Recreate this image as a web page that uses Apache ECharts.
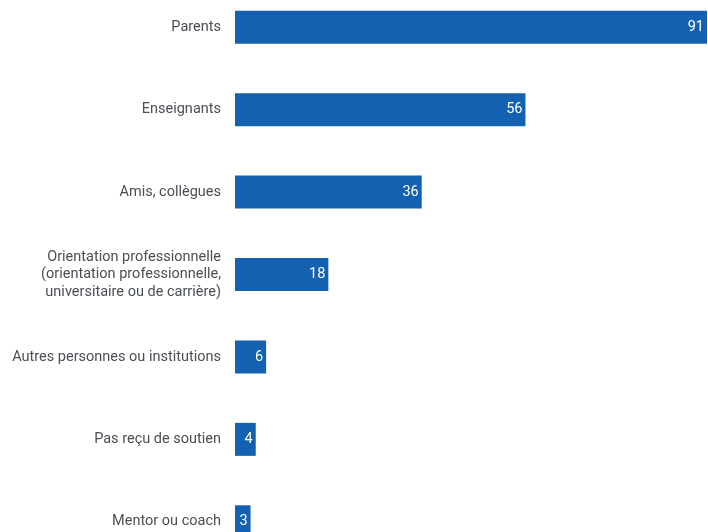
<!DOCTYPE html>
<html><head><meta charset="utf-8">
<script src="https://cdn.jsdelivr.net/npm/echarts@6/dist/echarts.min.js"></script>
<style>html,body{margin:0;padding:0;background:#fff;overflow:hidden;width:708px;height:532px}#c{position:absolute;left:0;top:-14px;width:708px;height:600px}</style>
</head><body><div id="c"></div>
<script>
const categories = [
  "Parents",
  "Enseignants",
  "Amis, collègues",
  "Orientation professionnelle\n(orientation professionnelle,\nuniversitaire ou de carrière)",
  "Autres personnes ou institutions",
  "Pas reçu de soutien",
  "Mentor ou coach"
];
const values = [91, 56, 36, 18, 6, 4, 3];

const chart = echarts.init(document.getElementById('c'));
chart.setOption({
  animation: false,
  grid: { left: 235, right: 1, top: 0, height: 577, containLabel: false },
  xAxis: { type: 'value', min: 0, max: 91, show: false },
  yAxis: {
    type: 'category', data: categories, inverse: true,
    axisLine: { show: false }, axisTick: { show: false },
    axisLabel: { color: '#4a4f55', fontSize: 14.5, fontFamily: 'Roboto, sans-serif', margin: 14, lineHeight: 17.5, align: 'right' }
  },
  series: [{
    type: 'bar', data: values, barWidth: 33,
    itemStyle: { color: '#1461b1' },
    label: { show: true, position: 'insideRight', distance: 3, color: '#fff', fontSize: 14.5, fontFamily: 'Roboto, sans-serif' }
  }]
});
</script></body></html>
